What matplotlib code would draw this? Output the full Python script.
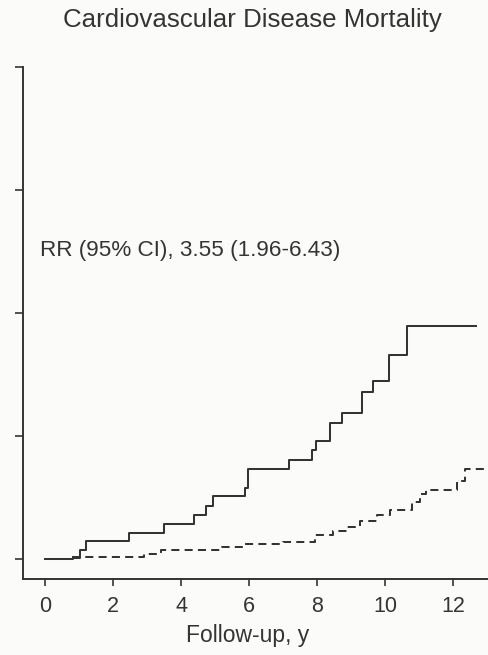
import matplotlib
matplotlib.use("Agg")
import matplotlib.pyplot as plt

plt.rcParams['font.family'] = ['Liberation Sans', 'DejaVu Sans']

# Cumulative mortality (%) step curves: event times (years) and levels
exposed_t = [0.0, 0.83, 1.03, 1.21, 2.48, 3.50, 4.37, 4.74, 4.95, 5.89, 5.98,
             7.19, 7.86, 7.96, 8.37, 8.73, 9.32, 9.64, 10.11, 10.65, 12.68]
exposed_y = [0.0, 0.06, 0.37, 0.73, 1.04, 1.43, 1.81, 2.17, 2.55, 2.87, 3.65,
             4.01, 4.43, 4.80, 5.55, 5.95, 6.79, 7.22, 8.29, 9.47, 9.47]

reference_t = [0.78, 2.90, 3.40, 5.20, 5.85, 7.00, 7.95, 8.48, 8.87, 9.26, 9.76,
               10.15, 10.79, 11.03, 11.22, 12.11, 12.35, 13.10]
reference_y = [0.10, 0.22, 0.37, 0.51, 0.61, 0.69, 0.98, 1.14, 1.32, 1.54, 1.79,
               2.01, 2.30, 2.64, 2.80, 3.17, 3.65, 3.65]

x_ticks = [0, 2, 4, 6, 8, 10, 12]
y_ticks = [0, 5, 10, 15, 20]

title = "Cardiovascular Disease Mortality"
x_label = "Follow-up, y"
rr_text = "RR (95% CI), 3.55 (1.96-6.43)"

ink = "#343434"

fig = plt.figure(figsize=(4.89, 6.55), dpi=100, facecolor="#fbfbfa")
ax = fig.add_axes([23 / 489, (655 - 579) / 655, 1 - 23 / 489, (579 - 67) / 655])
ax.set_facecolor("#fbfbfa")

ax.step(exposed_t, exposed_y, where="post", color=ink, lw=1.45)
ax.step(reference_t, reference_y, where="post", color=ink, lw=1.45,
        linestyle=(0, (4, 2.6)))

ax.set_xlim(-0.65, 13.06)
ax.set_ylim(-0.81, 20.0)
ax.set_xticks(x_ticks)
ax.set_yticks(y_ticks)
ax.set_yticklabels([])

for side in ("top", "right"):
    ax.spines[side].set_visible(False)
for side in ("left", "bottom"):
    ax.spines[side].set_color(ink)
    ax.spines[side].set_linewidth(1.4)

ax.tick_params(axis="x", direction="out", length=5, width=1.2, colors=ink,
               labelsize=15.5, pad=7, labelcolor=ink)
ax.tick_params(axis="y", direction="out", length=6, width=1.2, colors=ink)

ax.set_xlabel(x_label, fontsize=16.5, color=ink)
ax.xaxis.set_label_coords(0.483, -0.088)

ax.text(-0.15, 12.56, rr_text, fontsize=16.2, color=ink, va="center", ha="left")

fig.text(252 / 489, 1 - 20 / 655, title, fontsize=18.6, color=ink,
         ha="center", va="center")

fig.savefig("out.png", dpi=100, facecolor=fig.get_facecolor())
